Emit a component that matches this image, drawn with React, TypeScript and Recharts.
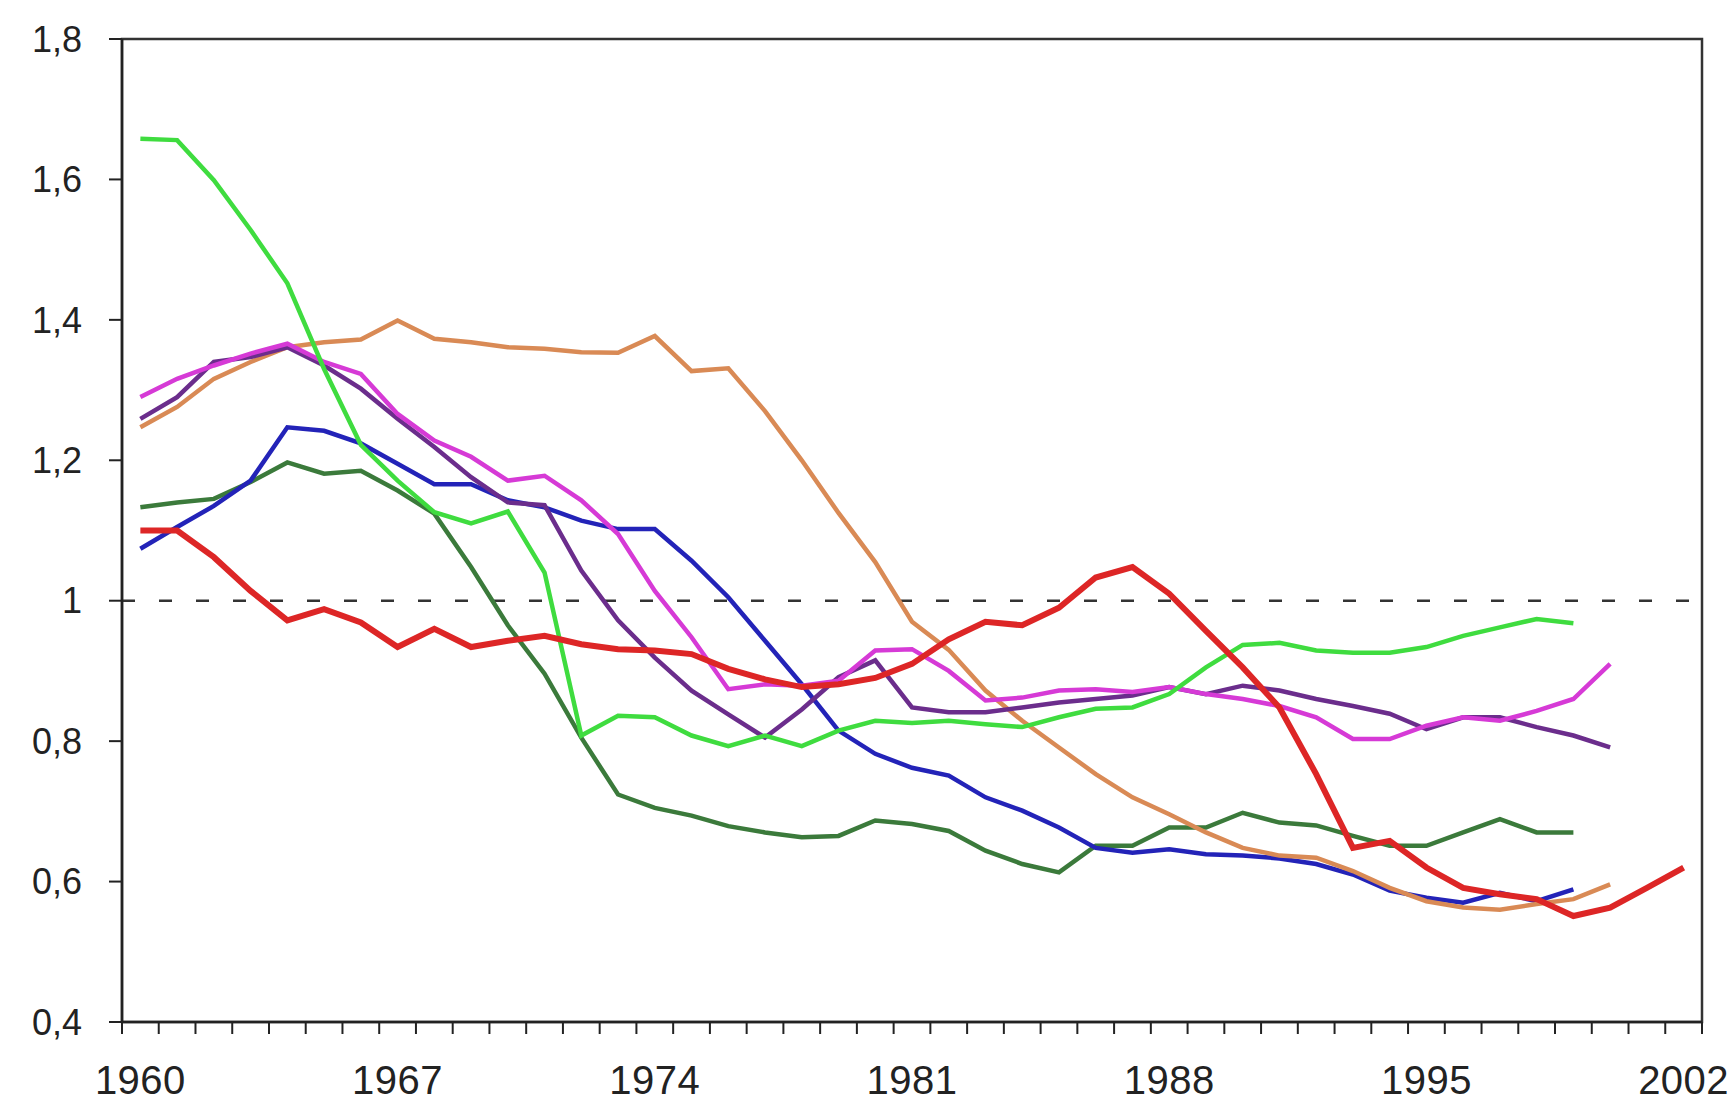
import React from 'react';
import { LineChart, Line, XAxis, YAxis, ReferenceLine, ReferenceArea } from 'recharts';

// one category per year, points sit in the middle of each year slot
const years = [
  1960, 1961, 1962, 1963, 1964, 1965, 1966, 1967, 1968, 1969,
  1970, 1971, 1972, 1973, 1974, 1975, 1976, 1977, 1978, 1979,
  1980, 1981, 1982, 1983, 1984, 1985, 1986, 1987, 1988, 1989,
  1990, 1991, 1992, 1993, 1994, 1995, 1996, 1997, 1998, 1999,
  2000, 2001, 2002,
];

// tick marks sit on the borders between years
const yearBorders = [
  1959.5, 1960.5, 1961.5, 1962.5, 1963.5, 1964.5, 1965.5, 1966.5, 1967.5, 1968.5,
  1969.5, 1970.5, 1971.5, 1972.5, 1973.5, 1974.5, 1975.5, 1976.5, 1977.5, 1978.5,
  1979.5, 1980.5, 1981.5, 1982.5, 1983.5, 1984.5, 1985.5, 1986.5, 1987.5, 1988.5,
  1989.5, 1990.5, 1991.5, 1992.5, 1993.5, 1994.5, 1995.5, 1996.5, 1997.5, 1998.5,
  1999.5, 2000.5, 2001.5, 2002.5,
];

const yearLabels = [1960, 1967, 1974, 1981, 1988, 1995, 2002];
const valueTicks = [0.4, 0.6, 0.8, 1, 1.2, 1.4, 1.6, 1.8];

const lightGreen = [
  1.658, 1.656, 1.599, 1.528, 1.452, 1.33, 1.222, 1.171, 1.126, 1.11,
  1.127, 1.04, 0.808, 0.836, 0.834, 0.808, 0.793, 0.808, 0.793, 0.815,
  0.829, 0.826, 0.829, 0.824, 0.82, 0.834, 0.846, 0.848, 0.867, 0.905,
  0.937, 0.94, 0.929, 0.926, 0.926, 0.934, 0.95, 0.962, 0.974, 0.968,
];

const tan = [
  1.247, 1.276, 1.316, 1.34, 1.361, 1.368, 1.372, 1.399, 1.373, 1.368,
  1.361, 1.359, 1.354, 1.353, 1.377, 1.327, 1.331, 1.27, 1.2, 1.125,
  1.055, 0.97, 0.93, 0.872, 0.829, 0.791, 0.753, 0.72, 0.696, 0.67,
  0.648, 0.637, 0.634, 0.615, 0.591, 0.572, 0.563, 0.56, 0.568, 0.575,
  0.596,
];

const magenta = [
  1.29, 1.316, 1.335, 1.352, 1.366, 1.34, 1.323, 1.266, 1.228, 1.205,
  1.171, 1.178, 1.143, 1.095, 1.014, 0.948, 0.874, 0.881, 0.879, 0.886,
  0.929, 0.931, 0.9, 0.858, 0.862, 0.872, 0.874, 0.87, 0.877, 0.867,
  0.86, 0.85, 0.834, 0.803, 0.803, 0.822, 0.834, 0.829, 0.843, 0.86,
  0.91,
];

const purple = [
  1.259, 1.29, 1.34, 1.347, 1.361, 1.335, 1.302, 1.259, 1.219, 1.176,
  1.14, 1.136, 1.043, 0.972, 0.919, 0.872, 0.838, 0.805, 0.845, 0.891,
  0.915, 0.848, 0.841, 0.841, 0.848, 0.855, 0.86, 0.865, 0.877, 0.867,
  0.879, 0.872, 0.86, 0.85, 0.839, 0.817, 0.834, 0.834, 0.82, 0.808,
  0.791,
];

const blue = [
  1.074, 1.105, 1.135, 1.171, 1.247, 1.242, 1.224, 1.195, 1.166, 1.166,
  1.143, 1.133, 1.114, 1.102, 1.102, 1.057, 1.005, 0.943, 0.881, 0.815,
  0.782, 0.762, 0.751, 0.72, 0.701, 0.677, 0.648, 0.641, 0.646, 0.639,
  0.637, 0.633, 0.625, 0.61, 0.587, 0.577, 0.57, 0.584, 0.572, 0.589,
];

const darkGreen = [
  1.133, 1.14, 1.145, 1.169, 1.197, 1.181, 1.185, 1.157, 1.124, 1.048,
  0.965, 0.896, 0.805, 0.724, 0.705, 0.694, 0.679, 0.67, 0.663, 0.665,
  0.687, 0.682, 0.672, 0.644, 0.625, 0.613, 0.651, 0.651, 0.677, 0.677,
  0.698, 0.684, 0.68, 0.665, 0.651, 0.651, 0.67, 0.689, 0.67, 0.67,
];

const red = [
  1.1, 1.1, 1.062, 1.014, 0.972, 0.988, 0.969, 0.934, 0.96, 0.934,
  0.943, 0.95, 0.938, 0.931, 0.929, 0.924, 0.903, 0.888, 0.877, 0.881,
  0.89, 0.91, 0.945, 0.97, 0.965, 0.99, 1.033, 1.048, 1.01, 0.957,
  0.905, 0.848, 0.753, 0.648, 0.658, 0.62, 0.591, 0.582, 0.575, 0.551,
  0.563, 0.591, 0.62,
];

const series = [
  { key: 'darkGreen', values: darkGreen, color: '#3b7a3b', width: 4.5 },
  { key: 'blue', values: blue, color: '#2323b8', width: 4.5 },
  { key: 'tan', values: tan, color: '#d98a55', width: 4.5 },
  { key: 'purple', values: purple, color: '#6b2d8c', width: 4.5 },
  { key: 'magenta', values: magenta, color: '#d63ad6', width: 4.5 },
  { key: 'lightGreen', values: lightGreen, color: '#3fdc3f', width: 4.5 },
  { key: 'red', values: red, color: '#dd2626', width: 6 },
];

const data = years.map((year, i) => {
  const row: Record<string, number | null> = { year };
  series.forEach((s) => {
    row[s.key] = s.values[i] ?? null;
  });
  return row;
});

const CHART_W = 1735;
const CHART_H = 1110;
const MARGIN = { top: 39, right: 33, bottom: 0, left: 0 };
const Y_AXIS_W = 122;
// half a year slot, so a label on a border tick lands in the middle of its year
const halfSlot = (CHART_W - MARGIN.right - Y_AXIS_W) / years.length / 2;

const axisColor = '#222';
const fontFamily = '"Liberation Sans", Arial, sans-serif';
const yFont = { fontFamily, fontSize: 36, fill: '#222' };

const formatValue = (v: number) => (v === 1 ? '1' : v.toFixed(1).replace('.', ','));

// ticks are drawn on year borders; the year text goes to the right of the border
const YearTick = (props: any) => {
  const { x, y, payload } = props;
  const year = payload.value + 0.5;
  if (!yearLabels.includes(year)) return <g />;
  return (
    <text
      x={x + halfSlot}
      y={y}
      dy="0.71em"
      textAnchor="middle"
      fontFamily={fontFamily}
      fontSize={40}
      letterSpacing={0.5}
      fill="#222"
    >
      {year}
    </text>
  );
};

export default function App() {
  return (
    <div style={{ position: 'absolute', left: 0, top: 0, background: '#fff' }}>
      <LineChart width={CHART_W} height={CHART_H} data={data} margin={MARGIN}>
        <XAxis
          dataKey="year"
          type="number"
          domain={[1959.5, 2002.5]}
          ticks={yearBorders}
          interval={0}
          tick={YearTick}
          tickSize={12}
          tickMargin={32}
          height={88}
          axisLine={{ stroke: axisColor, strokeWidth: 2.5 }}
          tickLine={{ stroke: axisColor, strokeWidth: 2 }}
        />
        <YAxis
          type="number"
          domain={[0.4, 1.8]}
          ticks={valueTicks}
          interval={0}
          width={Y_AXIS_W}
          tickSize={13}
          tickMargin={27}
          tickFormatter={formatValue}
          axisLine={{ stroke: axisColor, strokeWidth: 2.5 }}
          tickLine={{ stroke: axisColor, strokeWidth: 2 }}
          tick={yFont}
        />
        <ReferenceArea
          x1={1959.5}
          x2={2002.5}
          y1={0.4}
          y2={1.8}
          fill="none"
          stroke="#333"
          strokeWidth={2.5}
        />
        <ReferenceLine y={1} stroke="#333" strokeWidth={2.5} strokeDasharray="13 24" />
        {series.map((s) => (
          <Line
            key={s.key}
            type="linear"
            dataKey={s.key}
            stroke={s.color}
            strokeWidth={s.width}
            dot={false}
            activeDot={false}
            isAnimationActive={false}
          />
        ))}
      </LineChart>
    </div>
  );
}
